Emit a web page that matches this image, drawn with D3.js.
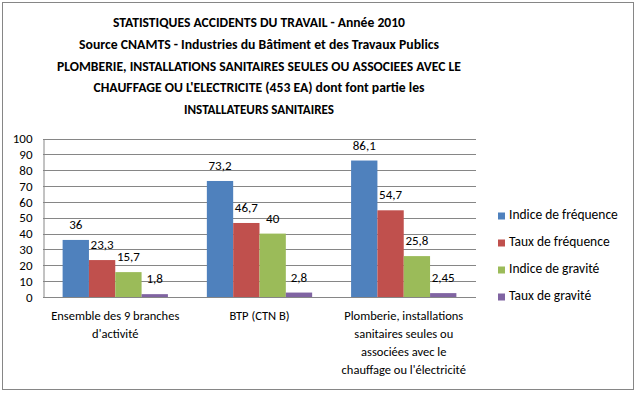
<!DOCTYPE html>
<html>
<head>
<meta charset="utf-8">
<script src="https://cdnjs.cloudflare.com/ajax/libs/d3/7.8.5/d3.min.js"></script>
<style>
body{margin:0;background:#fff;}
</style>
</head>
<body>
<script>
//DATA
var titleLines = [
   "STATISTIQUES ACCIDENTS DU TRAVAIL - Année 2010",
   "Source CNAMTS - Industries du Bâtiment et des Travaux Publics",
   "PLOMBERIE, INSTALLATIONS SANITAIRES SEULES OU ASSOCIEES AVEC LE",
   "CHAUFFAGE OU L'ELECTRICITE (453 EA) dont font partie les",
   "INSTALLATEURS SANITAIRES"
];
var categories = [
   ["Ensemble des 9 branches", "d'activité"],
   ["BTP (CTN B)"],
   ["Plomberie, installations", "sanitaires seules ou", "associées avec le", "chauffage ou l'électricité"]
];
var seriesNames = ["Indice de fréquence", "Taux de fréquence", "Indice de gravité", "Taux de gravité"];
var indiceFrequence = [36, 73.2, 86.1];
var tauxFrequence = [23.3, 46.7, 54.7];
var indiceGravite = [15.7, 40, 25.8];
var tauxGravite = [1.8, 2.8, 2.45];
var labelTexts = [
   ["36", "73,2", "86,1"],
   ["23,3", "46,7", "54,7"],
   ["15,7", "40", "25,8"],
   ["1,8", "2,8", "2,45"]
];
var yTicks = [0, 10, 20, 30, 40, 50, 60, 70, 80, 90, 100];

var colours = ["#4f81bd", "#c0504d", "#9bbb59", "#8064a2"];
var allSeries = [indiceFrequence, tauxFrequence, indiceGravite, tauxGravite];

//SVG STUFF
var width = 637;
var height = 393;
var font = "Carlito, Calibri, 'Liberation Sans', Arial, sans-serif";
var titleWidths = [292, 360, 404, 331, 150];

var svg = d3.select("body").append("svg")
   .attr("width", width).attr("height", height)
   .attr("viewBox", "0,0," + width + "," + height);

svg.append("rect")
   .attr("x", 2.5).attr("y", 2.5)
   .attr("width", 631).attr("height", 387)
   .attr("fill", "white")
   .attr("stroke", "#868686")
   .attr("stroke-width", 1);

//title
svg.append("g").selectAll("text").data(titleLines).enter().append("text")
   .text(d => d)
   .attr("x", 259)
   .attr("y", function(d, i){ return 24 + i * 21.6; })
   .attr("text-anchor", "middle")
   .attr("dominant-baseline", "middle")
   .attr("font-family", font)
   .attr("font-weight", "bold")
   .attr("font-size", "14px")
   .attr("textLength", function(d, i){ return titleWidths[i]; })
   .attr("lengthAdjust", "spacingAndGlyphs")
   .attr("fill", "black");

//scales
var x = d3.scaleBand().domain(d3.range(categories.length)).range([43, 476]).paddingInner(0.27).paddingOuter(0.136);
var x1 = d3.scaleBand().domain(d3.range(seriesNames.length)).range([0, x.bandwidth()]);
var y = d3.scaleLinear().domain([0, 100]).range([297, 138.5]);

//gridlines
svg.append("g").selectAll("line").data(yTicks).enter().append("line")
   .attr("x1", 43).attr("x2", 476)
   .attr("y1", d => Math.round(y(d)) + 0.5)
   .attr("y2", d => Math.round(y(d)) + 0.5)
   .attr("stroke", "#868686")
   .attr("stroke-width", 1);

//y axis
var yAxis = svg.append("g").attr("transform", "translate(43.5,0)")
   .call(d3.axisLeft(y).tickValues(yTicks).tickSize(0).tickPadding(11));
yAxis.select(".domain").attr("stroke", "#868686");
yAxis.selectAll("text")
   .attr("font-family", font)
   .attr("font-size", "13px")
   .attr("fill", "black");

//bars
allSeries.forEach(function(series, s){
   svg.append("g").selectAll("rect").data(series).enter().append("rect")
      .attr("x", function(d, i){ return x(i) + x1(s); })
      .attr("width", x1.bandwidth())
      .attr("y", d => y(d))
      .attr("height", d => y(0) - y(d))
      .attr("fill", colours[s]);

   svg.append("g").selectAll("text").data(series).enter().append("text")
      .text(function(d, i){ return labelTexts[s][i]; })
      .attr("x", function(d, i){ return x(i) + x1(s) + x1.bandwidth() / 2; })
      .attr("y", d => y(d) - 14)
      .attr("text-anchor", "middle")
      .attr("dominant-baseline", "middle")
      .attr("font-family", font)
      .attr("font-size", "13px")
      .attr("fill", "black");
});

//category labels
categories.forEach(function(lines, i){
   svg.append("g").selectAll("text").data(lines).enter().append("text")
      .text(d => d)
      .attr("x", x(i) + x.bandwidth() / 2)
      .attr("y", function(d, j){ return 317 + j * 18; })
      .attr("text-anchor", "middle")
      .attr("dominant-baseline", "middle")
      .attr("font-family", font)
      .attr("font-size", "12.5px")
      .attr("fill", "black");
});

//legend
var legend = svg.append("g").selectAll("g").data(seriesNames).enter().append("g")
   .attr("transform", function(d, i){ return "translate(498," + (216 + i * 27) + ")"; });
legend.append("rect")
   .attr("x", 0).attr("y", -3.5)
   .attr("width", 7).attr("height", 7)
   .attr("fill", (d, i) => colours[i]);
legend.append("text")
   .text(d => d)
   .attr("x", 11)
   .attr("y", 0)
   .attr("dominant-baseline", "middle")
   .attr("font-family", font)
   .attr("font-size", "13.5px")
   .attr("fill", "black");
</script>
</body>
</html>
